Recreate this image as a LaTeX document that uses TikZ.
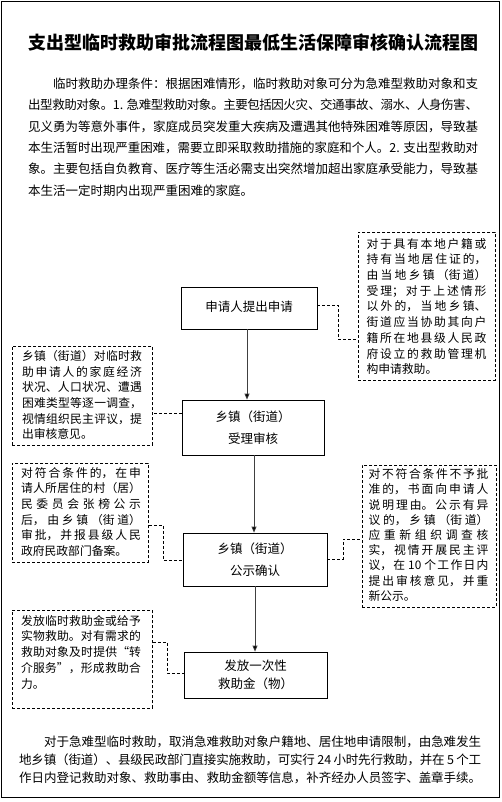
\documentclass[tikz,border=0pt]{standalone}
\usepackage{fontspec}
\setmainfont{Noto Sans CJK SC}
\usetikzlibrary{arrows.meta}
\XeTeXlinebreaklocale "zh"
\XeTeXlinebreakskip=0pt plus 4pt minus 0.6pt
\tolerance=10000
\hbadness=10000
\hfuzz=20pt
\tikzset{
  box/.style={draw, line width=0.8pt, inner sep=0pt, align=center,
    font=\fontsize{12.5}{21.5}\selectfont},
  dbox/.style={draw, dash pattern=on 3pt off 2pt, line width=0.8pt, inner sep=0pt, anchor=north west},
  dtext/.style={inner sep=0pt, anchor=north, text width=120pt, align=justify,
    font=\fontsize{11.8}{15.7}\selectfont},
  flow/.style={draw=black!75, line width=0.8pt, -{Triangle[length=6pt,width=5pt,fill=black]}},
  dcon/.style={draw, dash pattern=on 3pt off 2pt, line width=0.8pt},
  para/.style={inner sep=0pt, anchor=north west, align=justify}
}
\begin{document}
\begin{tikzpicture}[x=1pt,y=-1pt]
\useasboundingbox (0,0) rectangle (502,802);
\draw[line width=0.8pt] (1.5,1.5) rectangle (499.5,797.5);

\node[inner sep=0pt, font=\fontsize{18}{18}\selectfont\bfseries] (title) at (253.5,43)
  {支出型临时救助审批流程图最低生活保障审核确认流程图};

\node[para, text width=450pt, font=\fontsize{12.5}{21.4}\selectfont] (intro) at (28,77.5)
  {\hspace*{25pt}临时救助办理条件：根据困难情形，临时救助对象可分为急难型救助对象和支\linebreak
  出型救助对象。1. 急难型救助对象。主要包括因火灾、交通事故、溺水、人身伤害、\linebreak
  见义勇为等意外事件，家庭成员突发重大疾病及遭遇其他特殊困难等原因，导致基\linebreak
  本生活暂时出现严重困难，需要立即采取救助措施的家庭和个人。2. 支出型救助对\linebreak
  象。主要包括自负教育、医疗等生活必需支出突然增加超出家庭承受能力，导致基\linebreak
  本生活一定时期内出现严重困难的家庭。};

% main flow boxes
\node[box, minimum width=136pt, minimum height=42pt] (b1) at (249,308) {\raisebox{3pt}{申请人提出申请}};
\node[box, minimum width=142pt, minimum height=55pt] (b2) at (253,427.5) {乡镇（街道）\\受理审核};
\node[box, minimum width=144pt, minimum height=53pt] (b3) at (255,559.5) {乡镇（街道）\\公示确认};
\node[box, minimum width=143pt, minimum height=46pt, font=\fontsize{12.5}{18}\selectfont] (b4) at (255.5,675) {发放一次性\\救助金（物）};

\draw[flow] (b1.south -| 247,0) -- (b2.north -| 247,0);
\draw[flow] (b2.south -| 254,0) -- (b3.north -| 254,0);
\draw[flow] (b3.south -| 255,0) -- (b4.north -| 255,0);

% dashed note boxes
\node[dbox, minimum width=137pt, minimum height=148pt] (r1) at (358,232) {};
\node[dtext] (r1t) at (426.5,238) {对于具有本地户籍或\linebreak
持有当地居住证的，\linebreak
由当地乡镇（街道）\linebreak
受理；对于上述情形\linebreak
以外的，当地乡镇、\linebreak
街道应当协助其向户\linebreak
籍所在地县级人民政\linebreak
府设立的救助管理机\linebreak
构申请救助。};

\node[dbox, minimum width=140pt, minimum height=99pt] (l2) at (12,346) {};
\node[dtext] (l2t) at (82,350) {乡镇（街道）对临时救\linebreak
助申请人的家庭经济\linebreak
状况、人口状况、遭遇\linebreak
困难类型等逐一调查，\linebreak
视情组织民主评议，提\linebreak
出审核意见。};

\node[dbox, minimum width=136pt, minimum height=99pt] (l3) at (12,463) {};
\node[dtext] (l3t) at (81,467) {对符合条件的，在申\linebreak
请人所居住的村（居）\linebreak
民委员会张榜公示\linebreak
后，由乡镇（街道）\linebreak
审批，并报县级人民\linebreak
政府民政部门备案。};

\node[dbox, minimum width=134pt, minimum height=142pt] (r4) at (362,465) {};
\node[dtext, font=\fontsize{11.8}{15.2}\selectfont] (r4t) at (428.5,468.5) {对不符合条件不予批\linebreak
准的，书面向申请人\linebreak
说明理由。公示有异\linebreak
议的，乡镇（街道）\linebreak
应重新组织调查核\linebreak
实，视情开展民主评\linebreak
议，在 10 个工作日内\linebreak
提出审核意见，并重\linebreak
新公示。};

\node[dbox, minimum width=140pt, minimum height=98pt] (l5) at (12,610) {};
\node[dtext] (l5t) at (81,615) {发放临时救助金或给予\linebreak
实物救助。对有需求的\linebreak
救助对象及时提供“转\linebreak
介服务”，形成救助合\linebreak
力。};

% dashed connectors
\draw[dcon] (b1.east |- 0,305) -- (338,305) -- (338,339) -- (r1.west |- 0,339);
\draw[dcon] (b2.west |- 0,413) -- (l2.east |- 0,413);
\draw[dcon] (l3.east |- 0,525) -- (163,525) -- (163,560) -- (b3.west |- 0,560);
\draw[dcon] (b3.east |- 0,559) -- (343,559) -- (343,539) -- (r4.west |- 0,539);
\draw[dcon] (l5.east |- 0,642) -- (167,642) -- (167,673) -- (b4.west |- 0,673);

\node[para, text width=462pt, font=\fontsize{12.5}{18}\selectfont] (outro) at (19,735.5)
  {\hspace*{25pt}对于急难型临时救助，取消急难救助对象户籍地、居住地申请限制，由急难发生\linebreak
  地乡镇（街道）、县级民政部门直接实施救助，可实行 24 小时先行救助，并在 5 个工\linebreak
  作日内登记救助对象、救助事由、救助金额等信息，补齐经办人员签字、盖章手续。};
\end{tikzpicture}
\end{document}
